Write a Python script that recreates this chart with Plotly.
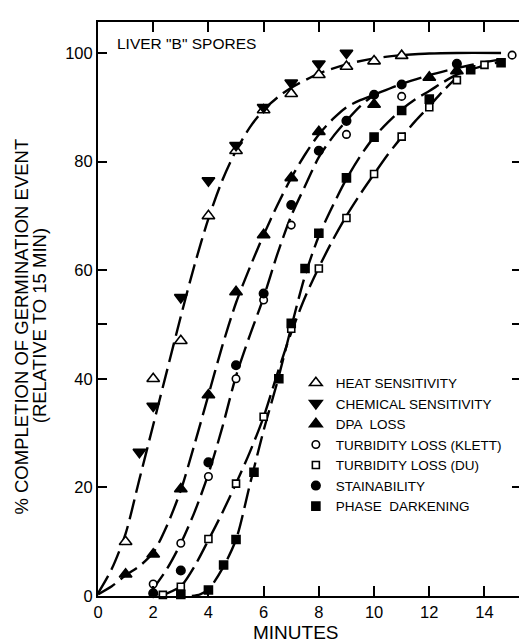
import numpy as np
import plotly.graph_objects as go

# ---------------- data ----------------
heat_x = [1, 2, 3, 4, 5, 6, 7, 8, 9, 10, 11]
heat_y = [10, 40, 47, 70, 82, 89.5, 92.5, 96, 97.5, 98.5, 99.5]

chem_x = [1.5, 2, 3, 4, 5, 6, 7, 8, 9]
chem_y = [26.5, 35, 55, 76.5, 83, 90, 94.5, 98, 100]

dpa_x = [1, 2, 3, 4, 5, 6, 7, 8, 10, 12, 13]
dpa_y = [4, 7.7, 19.7, 37, 56, 66.5, 77, 85.5, 90.5, 95.5, 96.7]

klett_x = [2, 3, 4, 5, 6, 7, 9, 11, 15]
klett_y = [2.2, 9.7, 22, 40, 54.5, 68.3, 85, 92, 99.6]

du_x = [2.35, 3, 4, 5, 6, 7, 8, 9, 10, 11, 12, 13, 14]
du_y = [0.2, 1.7, 10.5, 20.7, 33, 49.2, 60.3, 69.6, 77.7, 84.6, 90, 95, 97.8]

stain_x = [2, 3, 4, 5, 6, 7, 8, 9, 10, 11, 13]
stain_y = [0.5, 4.7, 24.6, 42.5, 55.7, 72, 82, 87.5, 92.3, 94.2, 98]

pd_x = [3, 4, 4.55, 5, 5.65, 6.55, 7, 7.5, 8, 9, 10, 11, 12, 13.5, 14.6]
pd_y = [0.3, 1.1, 5.7, 10.4, 22.8, 40, 50.2, 60.3, 66.8, 77, 84.5, 89.4, 91.5, 96.9, 98.2]

# hand-drawn fitted curves
sens_curve_x = [0, 0.5, 1, 1.5, 2, 2.5, 3, 3.5, 4, 4.5, 5, 5.5, 6, 6.5, 7, 8, 9, 10, 11, 12, 13, 14.6]
sens_curve_y = [0.5, 5, 11.5, 21.5, 31.5, 41.5, 51.5, 61, 69.5, 76.5, 82, 86.3, 89.5, 91.8, 93.6, 96.2, 97.9, 99, 99.6, 99.9, 100, 100]

dpa_curve_x = [0, 0.5, 1, 1.5, 2, 2.5, 3, 3.5, 4, 4.5, 5, 5.5, 6, 6.5, 7, 7.5, 8, 8.5, 9, 9.5, 10, 11, 12, 13, 14, 14.6]
dpa_curve_y = [0.3, 1.8, 3.8, 5.5, 8, 13, 19.5, 28, 37, 46, 54, 60.5, 66.5, 72, 77, 81.3, 85, 87.8, 90, 91.3, 92.3, 94.3, 95.9, 97.2, 98.3, 98.8]

stain_curve_x = [1.95, 2.5, 3, 3.5, 4, 4.5, 5, 5.5, 6, 6.5, 7, 7.5, 8, 8.5, 9, 9.5, 10]
stain_curve_y = [1.0, 5.0, 9.7, 15.5, 22.5, 31, 40.5, 48, 55, 63, 70, 75.5, 80.8, 84.5, 87.5, 90.2, 92.3]

du_curve_x = [2.2, 2.5, 3, 3.5, 4, 4.5, 5, 5.5, 6, 6.5, 7, 7.5, 8, 8.5, 9, 9.5, 10, 10.5, 11, 11.5, 12, 12.5, 13]
du_curve_y = [0.1, 0.5, 1.8, 5.5, 10.3, 15.3, 20.7, 26.5, 33, 41, 48.5, 55, 60.5, 65.5, 70, 74, 77.7, 81.3, 84.5, 87.5, 90.2, 93, 95.5]

pd_curve_x = [3.4, 3.7, 4, 4.5, 5, 5.5, 6, 6.5, 7, 7.5, 8, 8.5, 9, 9.5, 10, 10.5, 11, 11.5, 12, 12.5, 13, 13.5, 14, 14.6]
pd_curve_y = [0, 0.3, 1.2, 5, 10.4, 20.5, 30.5, 39.5, 49.5, 59, 66.3, 71.8, 76.8, 81, 84.5, 87.2, 89.6, 91.5, 93, 94.6, 96, 96.9, 97.7, 98.4]

x_ticks = [0, 2, 4, 6, 8, 10, 12, 14]
top_ticks = [2, 4, 6, 8, 10, 12, 14]
y_tickvals = [0, 20, 40, 50, 60, 80, 100]
y_ticktext = ["0", "20", "40", "", "60", "80", "100"]
right_tickvals = [20, 40, 50, 60, 80]

# ---------------- figure ----------------
FONT = "Liberation Sans, Arial, sans-serif"
DASH = "20px,7px"
LW = 2.4

fig = go.Figure()

def curve(x, y, dash=DASH):
    fig.add_trace(go.Scatter(x=x, y=y, mode="lines", showlegend=False, hoverinfo="skip",
                             line=dict(color="black", width=LW, dash=dash, shape="spline", smoothing=0.8)))

sx = np.array(sens_curve_x); sy = np.array(sens_curve_y)
curve(sx[sx <= 11], sy[sx <= 11])
curve(sx[sx >= 11], sy[sx >= 11], dash="solid")
curve(dpa_curve_x, dpa_curve_y)
curve(stain_curve_x, stain_curve_y)
curve(du_curve_x, du_curve_y)
curve(pd_curve_x, pd_curve_y)

def pts(x, y, name, symbol, size, fill):
    fig.add_trace(go.Scatter(x=x, y=y, mode="markers", name=name, cliponaxis=False,
                             marker=dict(symbol=symbol, size=size, color=fill,
                                         line=dict(color="black", width=1.6))))

pts(heat_x, heat_y, "HEAT SENSITIVITY", "triangle-up", 11, "white")
pts(chem_x, chem_y, "CHEMICAL SENSITIVITY", "triangle-down", 11, "black")
pts(dpa_x, dpa_y, "DPA  LOSS", "triangle-up", 11, "black")
pts(klett_x, klett_y, "TURBIDITY LOSS (KLETT)", "circle", 7.5, "white")
pts(du_x, du_y, "TURBIDITY LOSS (DU)", "square", 7, "white")
pts(stain_x, stain_y, "STAINABILITY", "circle", 8.5, "black")
pts(pd_x, pd_y, "PHASE  DARKENING", "square", 8, "black")

Y_MAX = 105.7
X_MAX = 15.25

# invisible helper trace so the frame axes (top / right) are drawn
fig.add_trace(go.Scatter(x=[X_MAX], y=[Y_MAX], xaxis="x2", yaxis="y2", mode="markers",
                         marker=dict(opacity=0, size=1), showlegend=False, hoverinfo="skip"))

fig.update_layout(
    width=519, height=643,
    margin=dict(l=98, r=0, t=22, b=47, autoexpand=False),
    paper_bgcolor="white", plot_bgcolor="white",
    font=dict(family=FONT, color="black", size=16),
    showlegend=True,
    legend=dict(x=0.47, y=0.398, xanchor="left", yanchor="top",
                bgcolor="rgba(0,0,0,0)", borderwidth=0,
                font=dict(family=FONT, size=13.5, color="black"),
                itemwidth=30, tracegroupgap=0),
    xaxis=dict(range=[0, X_MAX], tickvals=x_ticks, ticks="inside", ticklen=10, tickwidth=1.5,
               tickcolor="black", showline=True, linecolor="black", linewidth=2,
               showgrid=False, zeroline=False,
               tickfont=dict(family=FONT, size=16.5)),
    yaxis=dict(range=[0, Y_MAX], tickvals=y_tickvals, ticktext=y_ticktext, ticks="inside",
               ticklen=9, tickwidth=1.5, tickcolor="black", showline=True, linecolor="black",
               linewidth=2, showgrid=False, zeroline=False,
               tickfont=dict(family=FONT, size=16.5)),
    xaxis2=dict(range=[0, X_MAX], overlaying="x", side="top", anchor="y2", tickvals=top_ticks,
                ticks="inside", ticklen=10, tickwidth=1.5, tickcolor="black",
                showticklabels=False, showline=True, linecolor="black", linewidth=2,
                showgrid=False, zeroline=False),
    yaxis2=dict(range=[0, Y_MAX], overlaying="y", side="right", anchor="x2", tickvals=right_tickvals,
                ticks="inside", ticklen=7, tickwidth=1.5, tickcolor="black",
                showticklabels=False, showline=False, showgrid=False, zeroline=False),
)

fig.add_annotation(text="MINUTES", xref="paper", yref="paper", x=0.47, y=-0.063,
                   xanchor="center", yanchor="middle", showarrow=False,
                   font=dict(family=FONT, size=19))
fig.add_annotation(text="% COMPLETION OF GERMINATION EVENT", xref="paper", yref="paper",
                   x=-0.182, y=0.47, xanchor="center", yanchor="middle", showarrow=False,
                   textangle=-90, font=dict(family=FONT, size=18.5))
fig.add_annotation(text="(RELATIVE TO 15 MIN)", xref="paper", yref="paper",
                   x=-0.14, y=0.47, xanchor="center", yanchor="middle", showarrow=False,
                   textangle=-90, font=dict(family=FONT, size=18.5))
fig.add_annotation(text='LIVER "B" SPORES', xref="x", yref="y", x=0.6, y=101.8,
                   xanchor="left", yanchor="middle", showarrow=False,
                   font=dict(family=FONT, size=15.5))

fig.write_html("out.html", config={"displayModeBar": False},
               post_script="document.body.style.margin='0';document.body.style.padding='0';")
